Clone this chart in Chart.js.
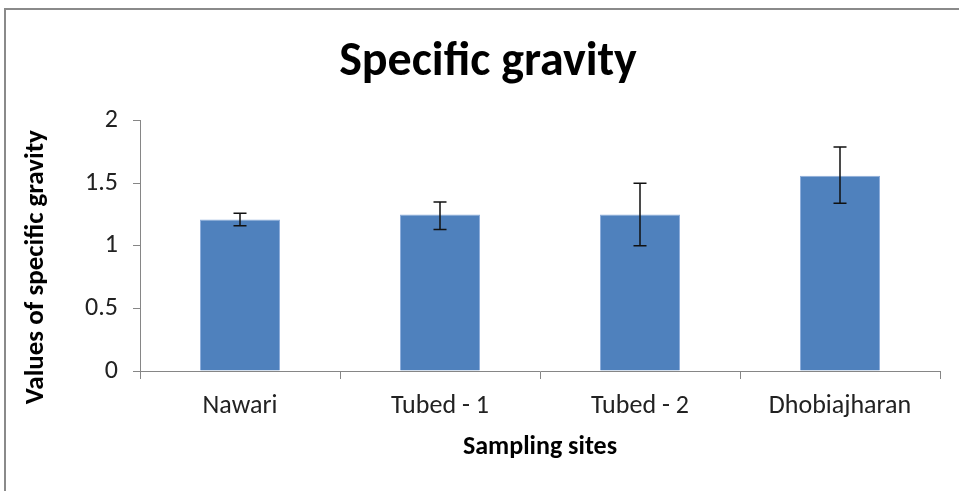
<!DOCTYPE html>
<html>
<head>
<meta charset="utf-8">
<script src="https://cdn.jsdelivr.net/npm/chart.js@4.4.1/dist/chart.umd.min.js"></script>
<style>
  html, body { margin: 0; padding: 0; background: #fff; }
  #wrap { position: relative; width: 959px; height: 491px; }
  #frame { position: absolute; left: 4px; top: 8px; width: 980px; height: 520px;
           border-top: 2px solid #8a8a8a; border-left: 2px solid #8a8a8a; box-sizing: border-box; }
  canvas { position: absolute; left: 0; top: 0; }
</style>
</head>
<body>
<div id="wrap">
  <div id="frame"></div>
  <canvas id="sgChart" width="959" height="491"></canvas>
</div>
<script>
// sampling sites and specific gravity readings
var siteLabels = ['Nawari', 'Tubed - 1', 'Tubed - 2', 'Dhobiajharan'];
var sgMean = [1.21, 1.25, 1.25, 1.56];
var sgHigh = [1.26, 1.35, 1.50, 1.79];
var sgLow  = [1.16, 1.13, 1.00, 1.34];
var yTicks = [0, 0.5, 1, 1.5, 2];

var fontFam = 'Carlito, "Open Sans", "Liberation Sans", sans-serif';

// draws the error bars from the y scale
var errorBars = {
    id: 'errorBars',
    afterDatasetsDraw: function (chart) {
        var ctx = chart.ctx;
        var meta = chart.getDatasetMeta(0);
        var yScale = chart.scales.y;
        ctx.save();
        ctx.strokeStyle = '#111';
        ctx.lineWidth = 1.5;
        for (var i = 0; i < meta.data.length; i++) {
            var x = meta.data[i].x;
            var yTop = yScale.getPixelForValue(sgHigh[i]);
            var yBot = yScale.getPixelForValue(sgLow[i]);
            ctx.beginPath();
            ctx.moveTo(x, yTop); ctx.lineTo(x, yBot);
            ctx.moveTo(x - 6.5, yTop); ctx.lineTo(x + 6.5, yTop);
            ctx.moveTo(x - 6.5, yBot); ctx.lineTo(x + 6.5, yBot);
            ctx.stroke();
        }
        ctx.restore();
    }
};

new Chart(document.getElementById('sgChart'), {
    type: 'bar',
    data: {
        labels: siteLabels,
        datasets: [{
            label: 'Specific gravity',
            data: sgMean,
            backgroundColor: '#4F81BD',
            borderColor: '#8EAEDB',
            borderWidth: 1,
            barPercentage: 0.4,
            categoryPercentage: 1.0
        }]
    },
    options: {
        responsive: false,
        animation: false,
        layout: { padding: { left: 36, right: 19, top: 0, bottom: 0 } },
        plugins: {
            legend: { display: false },
            tooltip: { enabled: false },
            title: {
                display: true,
                text: 'Specific gravity',
                color: '#000',
                font: { family: fontFam, size: 48, weight: 'bold' },
                padding: { top: 34, bottom: 29 }
            }
        },
        scales: {
            x: {
                grid: { drawOnChartArea: false, drawTicks: true, tickLength: 8, color: '#868686' },
                border: { color: '#868686', width: 1 },
                ticks: { color: '#222', font: { family: fontFam, size: 26 }, padding: 12 },
                title: {
                    display: true, text: 'Sampling sites', color: '#000',
                    font: { family: fontFam, size: 26, weight: 'bold' },
                    padding: { top: 0, bottom: 28 }
                },
                afterFit: function (scale) { scale.height = 120; }
            },
            y: {
                min: 0, max: 2,
                afterBuildTicks: function (scale) {
                    scale.ticks = yTicks.map(function (v) { return { value: v }; });
                },
                grid: { drawOnChartArea: false, drawTicks: true, tickLength: 7, color: '#868686' },
                border: { color: '#868686', width: 1 },
                ticks: {
                    color: '#222', font: { family: fontFam, size: 26 }, padding: 15,
                    callback: function (v) { return String(v); }
                },
                title: {
                    display: true, text: 'Values of specific gravity       ', color: '#000',
                    font: { family: fontFam, size: 27, weight: 'bold' },
                    padding: { top: -16, bottom: 0 }
                },
                afterFit: function (scale) { scale.width = 104; }
            }
        }
    },
    plugins: [errorBars]
});
</script>
</body>
</html>
